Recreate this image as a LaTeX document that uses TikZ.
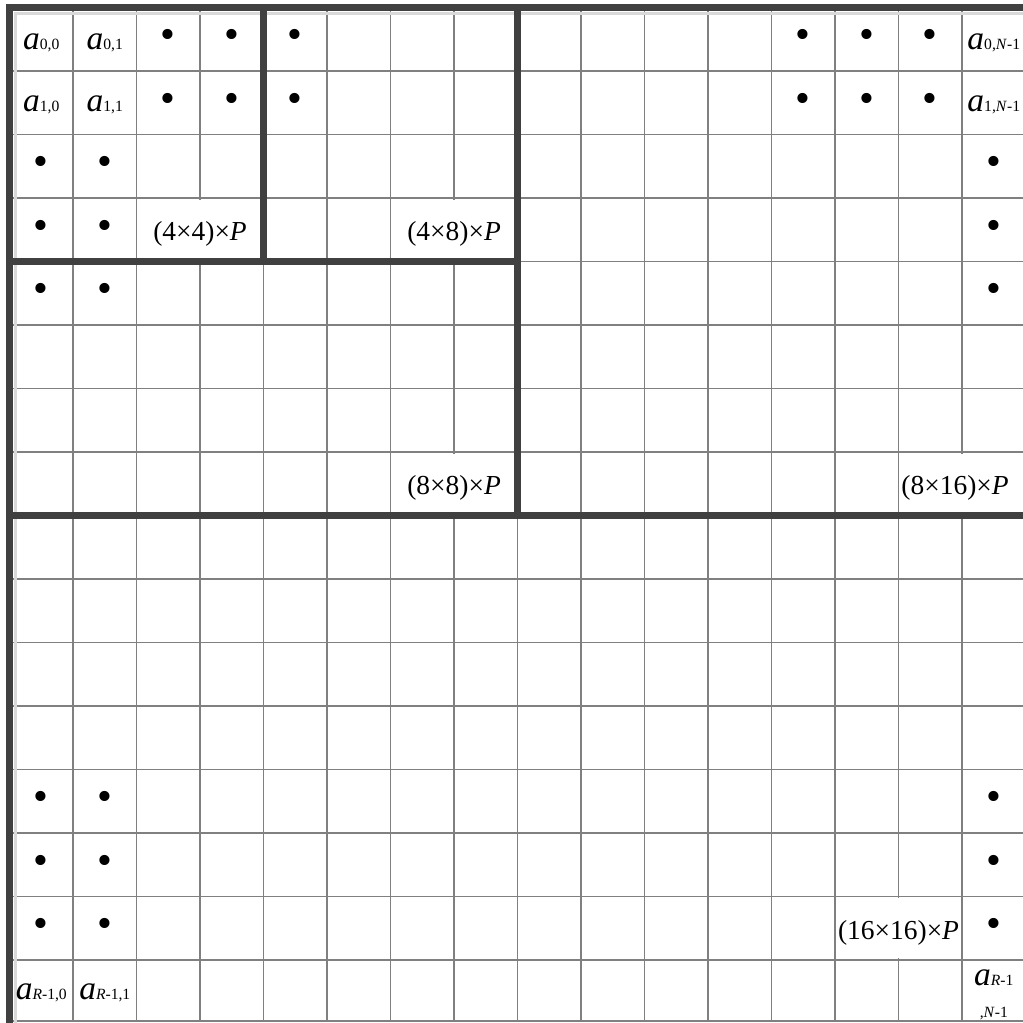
\documentclass[tikz,border=0pt]{standalone}
\usepackage{fontspec}
\setmainfont{Liberation Serif}

% matrix element a with a small, unlowered index
\newcommand{\elt}[1]{{\fontsize{15}{18}\selectfont\itshape a}{\fontsize{7}{8}\selectfont #1}}

\begin{document}
\begin{tikzpicture}[x=1cm,y=-1cm,
  gridline/.style={black!50,line width=0.7pt},
  blockline/.style={black!75,line width=3.1pt},
  shadeline/.style={black!15,line width=1.4pt},
  dotcell/.style={inner sep=0pt,font=\fontsize{19}{20}\selectfont},
  eltcell/.style={anchor=base,inner sep=0pt},
  blocklabel/.style={anchor=base,inner sep=0pt,font=\fontsize{12.3}{14}\selectfont}]
  \useasboundingbox (-0.15,-0.118) rectangle (15.96,15.99);

  % cell grid
  \draw[gridline] (0,0) grid (16,15.96);
  \draw[gridline] (0,15.96) -- (16,15.96);
  % merged label cells
  \foreach \c/\r in {2/3,6/3,6/7,14/7,13/14}
    \fill[white] (\c+0.03,\r+0.03) rectangle (\c+1.97,\r+0.97);

  % block borders
  \draw[shadeline] (0.095,16) -- (0.095,0.095) -- (16,0.095);
  \draw[blockline] (0,16) -- (0,0) -- (16,0);
  \draw[blockline] (4,0) -- (4,4);
  \draw[blockline] (0,4) -- (8,4);
  \draw[blockline] (8,0) -- (8,8);
  \draw[blockline] (0,8) -- (16,8);

  % elements
  \node[eltcell] (a00) at (0.5,0.66) {\elt{0,0}};
  \node[eltcell] (a01) at (1.5,0.66) {\elt{0,1}};
  \node[eltcell] (a0N) at (15.5,0.66) {\elt{0,\textit{N}-1}};
  \node[eltcell] (a10) at (0.5,1.64) {\elt{1,0}};
  \node[eltcell] (a11) at (1.5,1.64) {\elt{1,1}};
  \node[eltcell] (a1N) at (15.5,1.64) {\elt{1,\textit{N}-1}};
  \node[eltcell] (aR0) at (0.5,15.62) {\elt{\textit{R}-1,0}};
  \node[eltcell] (aR1) at (1.5,15.62) {\elt{\textit{R}-1,1}};
  \node[inner sep=0pt,align=center,font=\fontsize{15}{14.3}\selectfont] (aRN)
    at (15.5,15.55) {\elt{\textit{R}-1}\\{\fontsize{7}{8}\selectfont ,\textit{N}-1}};

  % dots
  \foreach \c/\r in {2/0,3/0,4/0,12/0,13/0,14/0,2/1,3/1,4/1,12/1,13/1,14/1,
      0/2,1/2,15/2,0/3,1/3,15/3,0/4,1/4,15/4,
      0/12,1/12,15/12,0/13,1/13,15/13,0/14,1/14,15/14}
    \node[dotcell] (dot-\c-\r) at (\c+0.5,\r+0.5) {•};

  % block sizes
  \node[blocklabel] (b44) at (3,3.67) {(4×4)×\textit{P}};
  \node[blocklabel] (b48) at (7,3.67) {(4×8)×\textit{P}};
  \node[blocklabel] (b88) at (7,7.67) {(8×8)×\textit{P}};
  \node[blocklabel] (b816) at (14.89,7.67) {(8×16)×\textit{P}};
  \node[blocklabel] (b1616) at (14,14.67) {(16×16)×\textit{P}};
\end{tikzpicture}
\end{document}
